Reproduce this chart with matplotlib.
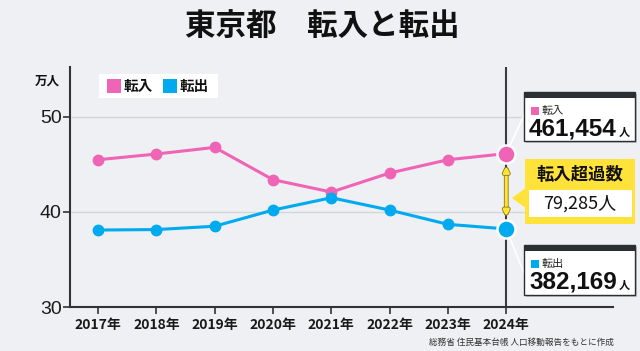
import matplotlib
matplotlib.use("Agg")
import matplotlib.pyplot as plt
from matplotlib.patches import Rectangle, Polygon
import matplotlib.patheffects as pe

plt.rcParams['font.family'] = ['Noto Sans CJK JP', 'DejaVu Sans']

years = ['2017年', '2018年', '2019年', '2020年', '2021年', '2022年', '2023年', '2024年']
inflow = [45.5, 46.1, 46.8, 43.4, 42.1, 44.1, 45.5, 46.1454]
outflow = [38.1, 38.15, 38.5, 40.2, 41.5, 40.2, 38.7, 38.2169]
yticks = [30, 40, 50]
in_total = '461,454'
out_total = '382,169'
excess = '79,285'

PINK = '#f064b6'
BLUE = '#00aaef'
BG = '#eef0f3'
DARK = '#2b2f33'
YEL = '#ffe23a'

W, H = 640, 351
fig = plt.figure(figsize=(6.4, 3.51), dpi=100, facecolor=BG)

def fx(x):
    return x / W

def fy(y):
    return 1 - y / H

ax = fig.add_axes([fx(70), fy(307), fx(613) - fx(70), fy(67) - fy(307)])
ax.set_facecolor(BG)
x = list(range(len(years)))
ax.set_xlim(-0.48, 8.83)
ax.set_ylim(30, 55.26)

for gy in [40, 50]:
    ax.axhline(gy, color='#d3d6da', lw=1, zorder=1)
ax.axvline(7, color='#3a3d40', lw=1.5, zorder=2)

ax.plot(x, inflow, color=PINK, lw=2.2, marker='o', ms=7.5, zorder=4, solid_capstyle='round')
ax.plot(x, outflow, color=BLUE, lw=2.2, marker='o', ms=7.5, zorder=4, solid_capstyle='round')
ax.plot([7], [inflow[-1]], 'o', color=PINK, ms=13, mec='white', mew=1.8, zorder=6)
ax.plot([7], [outflow[-1]], 'o', color=BLUE, ms=13, mec='white', mew=1.8, zorder=6)

# connectors
ax.annotate('', xy=(7, inflow[-1]), xycoords='data', xytext=(525, H - 113),
            textcoords='figure pixels', annotation_clip=False,
            arrowprops=dict(arrowstyle='-', color='white', lw=1.2, shrinkA=0, shrinkB=0), zorder=3)
ax.annotate('', xy=(7, outflow[-1]), xycoords='data', xytext=(524, H - 273),
            textcoords='figure pixels', annotation_clip=False,
            arrowprops=dict(arrowstyle='-', color='white', lw=1.2, shrinkA=0, shrinkB=0), zorder=3)

# double arrow for excess
ax.annotate('', xy=(7, inflow[-1] - 1.3), xycoords='data', xytext=(7, outflow[-1] + 1.3),
            textcoords='data', annotation_clip=False,
            arrowprops=dict(arrowstyle='<|-|>,head_length=0.3,head_width=0.15', color=YEL, lw=2.2,
                            shrinkA=0, shrinkB=0,
                            path_effects=[pe.Stroke(linewidth=3.4, foreground='#8a7a10'), pe.Normal()]),
            zorder=5)

ax.set_xticks(x)
ax.set_xticklabels(years, fontsize=10, fontweight='bold', color='#1a1a1a')
ax.set_yticks(yticks)
ax.set_yticklabels([str(v) for v in yticks], fontsize=14, color='#1a1a1a', family=['Liberation Sans', 'DejaVu Sans'])
ax.tick_params(axis='x', length=5, width=1.2, color='#333333', pad=3)
ax.tick_params(axis='y', length=5, width=1.2, color='#333333', pad=1)
for s in ['top', 'right']:
    ax.spines[s].set_visible(False)
for s in ['left', 'bottom']:
    ax.spines[s].set_color('#333333')
    ax.spines[s].set_linewidth(1.5)

# title
fig.text(fx(322), fy(27), '東京都　転入と転出', ha='center', va='center', fontsize=22, fontweight='bold', color='#111111')
fig.text(fx(47), fy(81), '万人', ha='center', va='center', fontsize=9, fontweight='bold', color='#111111')

# legend box
def frect(x0, y0, x1, y1, **kw):
    r = Rectangle((fx(x0), fy(y1)), fx(x1) - fx(x0), fy(y0) - fy(y1), transform=fig.transFigure, **kw)
    fig.add_artist(r)
    return r

frect(99, 74, 218, 98, facecolor='white', edgecolor='none', zorder=10)
frect(107, 79, 121, 93, facecolor=PINK, edgecolor='none', zorder=11)
fig.text(fx(124), fy(86.5), '転入', ha='left', va='center', fontsize=10.5, fontweight='bold', color='#111111', zorder=11)
frect(163, 79, 177, 93, facecolor=BLUE, edgecolor='none', zorder=11)
fig.text(fx(180), fy(86.5), '転出', ha='left', va='center', fontsize=10.5, fontweight='bold', color='#111111', zorder=11)

# value boxes
def value_box(y0, y1, color, label, value):
    frect(526, y0 + 2, 637, y1 + 2, facecolor='#9a9ea3', edgecolor='none', alpha=0.5, zorder=10)
    frect(524, y0, 635, y1, facecolor='white', edgecolor=DARK, lw=1, zorder=11)
    frect(524, y0, 635, y0 + 6, facecolor=DARK, edgecolor='none', zorder=12)
    frect(531, y0 + 15, 539, y0 + 23, facecolor=color, edgecolor='none', zorder=12)
    fig.text(fx(542), fy(y0 + 19), label, ha='left', va='center', fontsize=8, color='#222222', zorder=12)
    fig.text(fx(529), fy(y0 + 37), value, ha='left', va='center', fontsize=17.5, fontweight='bold',
             color='#111111', zorder=12, family=['Liberation Sans', 'DejaVu Sans'])
    fig.text(fx(619), fy(y0 + 40), '人', ha='left', va='center', fontsize=8, fontweight='bold', color='#111111', zorder=12)

value_box(92, 141, PINK, '転入', in_total)
value_box(245, 295, BLUE, '転出', out_total)

# excess box
frect(525, 159, 635, 224, facecolor=YEL, edgecolor='none', zorder=11)
tri = Polygon([(fx(512), fy(198)), (fx(527), fy(187)), (fx(527), fy(209))], closed=True,
              transform=fig.transFigure, facecolor=YEL, edgecolor='none', zorder=11)
fig.add_artist(tri)
frect(529, 190, 632, 217, facecolor='white', edgecolor='none', zorder=12)
fig.text(fx(580), fy(175), '転入超過数', ha='center', va='center', fontsize=12.5, fontweight='bold', color='#111111', zorder=13)
fig.text(fx(580), fy(203.5), excess + '人', ha='center', va='center', fontsize=13, color='#111111', zorder=13)

# source
fig.text(fx(614), fy(342), '総務省 住民基本台帳 人口移動報告をもとに作成', ha='right', va='center', fontsize=6.2,
         color='#333333')

fig.savefig('out.png', dpi=100, facecolor=BG)
